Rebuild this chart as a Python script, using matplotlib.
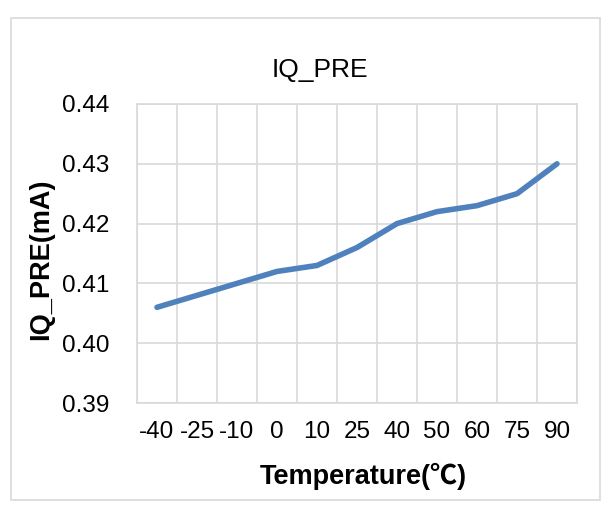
import matplotlib
matplotlib.use("Agg")
import matplotlib.pyplot as plt
from matplotlib.patches import Rectangle
import numpy as np

categories = ["-40", "-25", "-10", "0", "10", "25", "40", "50", "60", "75", "90"]
iq_pre = [0.406, 0.408, 0.410, 0.412, 0.413, 0.416, 0.420, 0.422, 0.423, 0.425, 0.430]
y_ticks = [0.39, 0.40, 0.41, 0.42, 0.43, 0.44]

plt.rcParams['font.family'] = ['Liberation Sans', 'DejaVu Sans']
W, H = 603, 505
fig = plt.figure(figsize=(W/100, H/100), dpi=100)
ax = fig.add_axes([137/W, 1-403/H, 440/W, 299/H])

x = np.arange(len(categories))
ax.plot(x, iq_pre, color='#4f81bd', lw=4.0, solid_capstyle='round', solid_joinstyle='round', zorder=3)

ax.set_xlim(-0.5, len(categories)-0.5)
ax.set_ylim(y_ticks[0], y_ticks[-1])
ax.set_yticks(y_ticks)
ax.set_yticklabels([f"{v:.2f}" for v in y_ticks])
ax.set_xticks(x)
ax.set_xticklabels(categories)
ax.set_xticks(np.arange(-0.5, len(categories)), minor=True)
ax.grid(False)
ax.grid(True, which='minor', axis='x', color='#d9d9d9', lw=1.2)
ax.grid(True, which='major', axis='y', color='#d9d9d9', lw=1.2)
for s in ax.spines.values():
    s.set_color('#d9d9d9')
    s.set_linewidth(1.2)
ax.tick_params(axis='both', which='both', length=0, labelsize=17.5, colors='black')
ax.tick_params(axis='y', pad=20)
ax.tick_params(axis='x', pad=13)

fig.text(320/W, 1-77/H, "IQ_PRE", ha='center', va='baseline', fontsize=19)
fig.text(363/W, 1-484/H, "Temperature(℃)", ha='center', va='baseline', fontsize=19.5, fontweight='bold',
         family=['Liberation Sans', 'Noto Sans CJK SC', 'DejaVu Sans'])
fig.text(41.5/W, 1-259/H, "IQ_PRE(mA)", ha='center', va='center', fontsize=19.5, fontweight='bold', rotation=90)

fig.patches.append(Rectangle((11/W, 1-500/H), 589/W, 482/H, transform=fig.transFigure,
                             fill=False, edgecolor='#d9d9d9', lw=1.2))

fig.savefig("out.png", dpi=100)
